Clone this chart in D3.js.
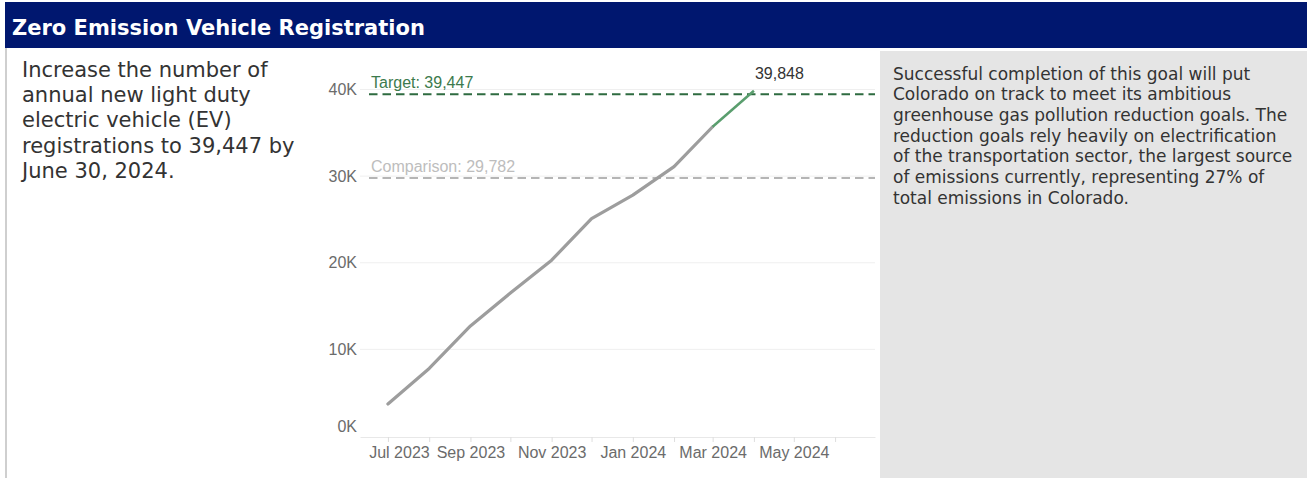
<!DOCTYPE html>
<html>
<head>
<meta charset="utf-8">
<title>Zero Emission Vehicle Registration</title>
<script src="https://cdn.jsdelivr.net/npm/d3@7"></script>
<style>
  body { margin: 0; background: #fff; }
  svg { display: block; }
</style>
</head>
<body>
<div id="chart"></div>
<script>
// values
const months = ["2023-07-01", "2023-08-01", "2023-09-01", "2023-10-01", "2023-11-01",
                "2023-12-01", "2024-01-01", "2024-02-01", "2024-03-01", "2024-04-01"];
const registrations = [3700, 7800, 12700, 16500, 20300, 25100, 27800, 31100, 35700, 39848];
const target = 39447;
const comparison = 29782;
const y_ticks = [0, 10000, 20000, 30000, 40000];
const x_domain = ["2023-06-10", "2024-07-01"];
const x_tick_range = ["2023-07-01", "2024-07-01"];

const title = "Zero Emission Vehicle Registration";
const goal_lines = [
  "Increase the number of",
  "annual new light duty",
  "electric vehicle (EV)",
  "registrations to 39,447 by",
  "June 30, 2024."
];
const note_lines = [
  "Successful completion of this goal will put",
  "Colorado on track to meet its ambitious",
  "greenhouse gas pollution reduction goals. The",
  "reduction goals rely heavily on electrification",
  "of the transportation sector, the largest source",
  "of emissions currently, representing 27% of",
  "total emissions in Colorado."
];

const width = 1307, height = 478;
const chart_font = "'Liberation Sans', Arial, sans-serif";
const text_font = "'DejaVu Sans', Verdana, sans-serif";

const svg = d3.select("#chart")
  .append("svg")
  .attr("width", width)
  .attr("height", height);

// header bar
svg.append("rect")
  .attr("x", 5).attr("y", 2)
  .attr("width", width - 5).attr("height", 46)
  .attr("fill", "#00176f");

svg.append("text")
  .attr("x", 12).attr("y", 35)
  .attr("fill", "#fff")
  .style("font", `bold 21px ${text_font}`)
  .text(title);

svg.append("line")
  .attr("x1", 6).attr("x2", 6)
  .attr("y1", 48).attr("y2", height)
  .attr("stroke", "#cfcfcf")
  .attr("stroke-width", 2);

// goal text on the left
svg.append("g")
  .style("font", `21px ${text_font}`)
  .attr("fill", "#333")
  .selectAll("text")
  .data(goal_lines)
  .join("text")
    .attr("x", 22)
    .attr("y", (d, i) => 76.5 + i * 25.4)
    .text(d => d);

// note panel on the right
svg.append("rect")
  .attr("x", 880).attr("y", 51)
  .attr("width", width - 880).attr("height", height - 51)
  .attr("fill", "#e5e5e5");

svg.append("g")
  .style("font", `17px ${text_font}`)
  .attr("fill", "#333")
  .selectAll("text")
  .data(note_lines)
  .join("text")
    .attr("x", 893)
    .attr("y", (d, i) => 79.5 + i * 20.7)
    .text(d => d);

// chart
const data = months.map((m, i) => ({date: new Date(m), value: registrations[i]}));

const x = d3.scaleUtc()
  .domain(x_domain.map(d => new Date(d)))
  .range([360, 875]);

const y = d3.scaleLinear()
  .domain([0, 40000])
  .range([436, 89.5]);

const chart = svg.append("g").style("font", `16px ${chart_font}`);

// gridlines
chart.append("g")
  .selectAll("line")
  .data(y_ticks.filter(d => d > 0))
  .join("line")
    .attr("x1", x.range()[0]).attr("x2", x.range()[1])
    .attr("y1", d => y(d)).attr("y2", d => y(d))
    .attr("stroke", "#efefef");

// x axis, a tick every month, a label every other month
const x_ticks = d3.utcMonth.range(...x_tick_range.map(d => new Date(d)));
const xAxis = chart.append("g")
  .attr("transform", `translate(0,${y(0) + 1})`)
  .call(d3.axisBottom(x)
    .tickValues(x_ticks)
    .tickSize(5)
    .tickSizeOuter(0)
    .tickFormat((d, i) => i % 2 === 0 ? d3.utcFormat("%b %Y")(d) : ""));
xAxis.select(".domain").attr("stroke", "#e8e8e8");
xAxis.selectAll(".tick line").attr("stroke", "#dedede");
xAxis.selectAll(".tick text")
  .attr("y", 10)
  .attr("fill", "#6b6b6b")
  .style("font", `16px ${chart_font}`)
  .attr("dx", (d, i) => i === 0 ? 11 : 0);

// y axis
const yAxis = chart.append("g")
  .attr("transform", `translate(${x.range()[0]},0)`)
  .call(d3.axisLeft(y)
    .tickValues(y_ticks)
    .tickSize(0)
    .tickPadding(3)
    .tickFormat(d => d / 1000 + "K"));
yAxis.select(".domain").remove();
yAxis.selectAll(".tick text")
  .attr("fill", "#6b6b6b")
  .style("font", `16px ${chart_font}`)
  .attr("y", d => d === 0 ? -10 : 0);

// reference lines
const refs = [
  {value: comparison, label: "Comparison: " + d3.format(",")(comparison), line: "#b5b5b5", text: "#bdbdbd"},
  {value: target, label: "Target: " + d3.format(",")(target), line: "#2e6b40", text: "#3c7a4d"}
];

chart.append("g")
  .selectAll("line")
  .data(refs)
  .join("line")
    .attr("x1", x.range()[0] + 9).attr("x2", x.range()[1])
    .attr("y1", d => y(d.value)).attr("y2", d => y(d.value))
    .attr("stroke", d => d.line)
    .attr("stroke-width", 2)
    .attr("stroke-dasharray", "8.5,5");

chart.append("g")
  .selectAll("text")
  .data(refs)
  .join("text")
    .attr("x", 371)
    .attr("y", d => y(d.value) - 6.5)
    .attr("fill", d => d.text)
    .text(d => d.label);

// registrations line, gray until it crosses into the target zone
const line = d3.line()
  .x(d => x(d.date))
  .y(d => y(d.value));

chart.append("path")
  .datum(data.slice(0, -1))
  .attr("fill", "none")
  .attr("stroke", "#9d9d9d")
  .attr("stroke-width", 3.2)
  .attr("stroke-linejoin", "round")
  .attr("stroke-linecap", "round")
  .attr("d", line);

chart.append("path")
  .datum(data.slice(-2))
  .attr("fill", "none")
  .attr("stroke", "#5a9e6e")
  .attr("stroke-width", 2.5)
  .attr("d", line);

const last = data[data.length - 1];
chart.append("text")
  .attr("x", x(last.date) + 1)
  .attr("y", y(last.value) - 12)
  .attr("fill", "#333")
  .text(d3.format(",")(last.value));
</script>
</body>
</html>
